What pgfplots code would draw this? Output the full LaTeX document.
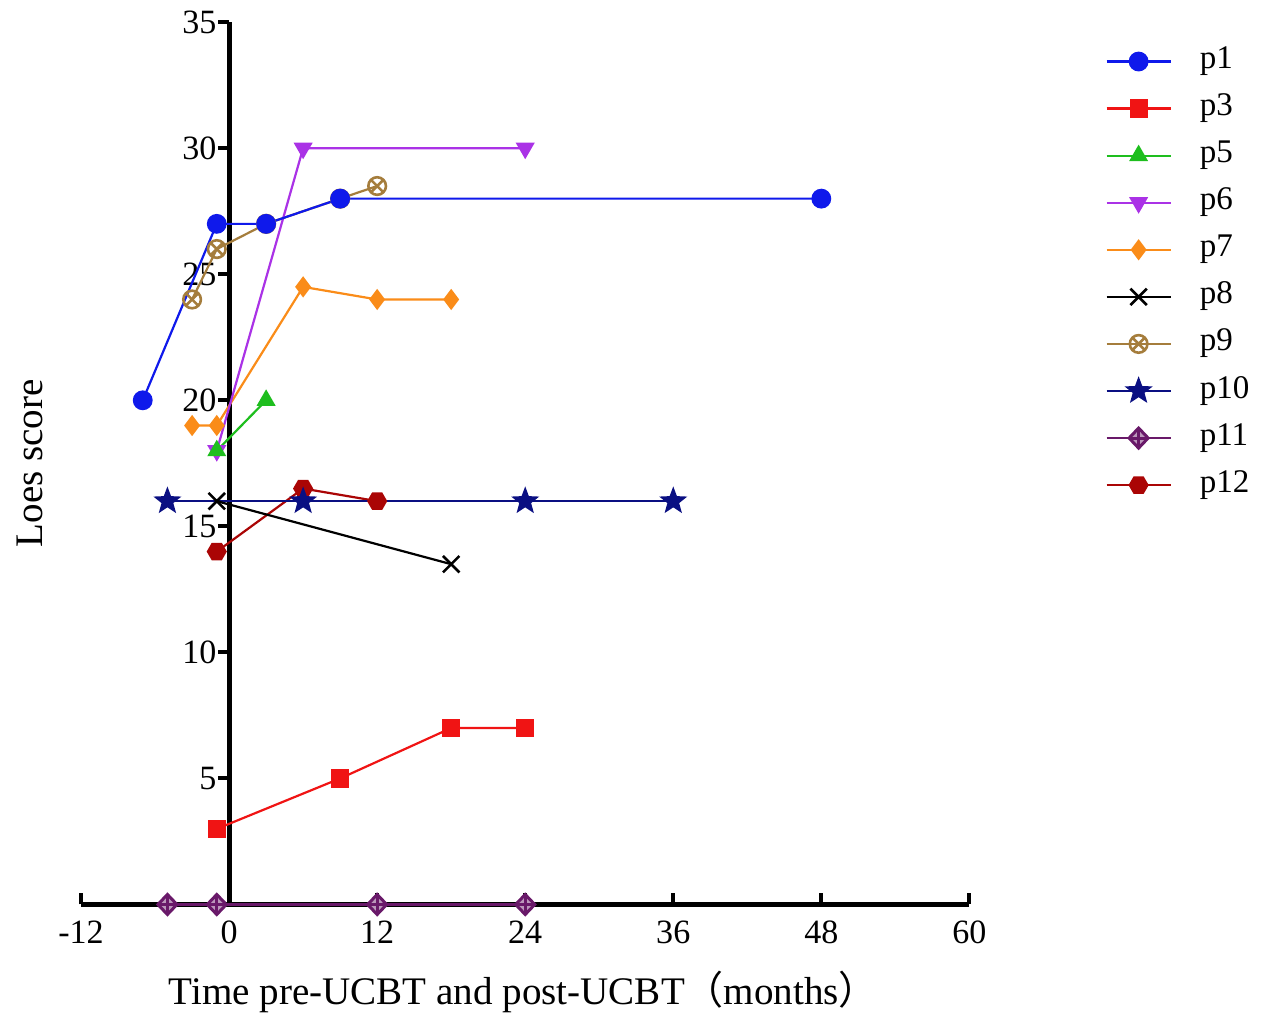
\documentclass[border=0pt]{standalone}
\usepackage{fontspec}
\setmainfont{Liberation Serif}
\newfontfamily\cjk{Noto Sans CJK SC}
\usepackage{pgfplots}
\pgfplotsset{compat=1.18}
\usetikzlibrary{plotmarks}

\definecolor{cA}{RGB}{15,25,235}
\definecolor{cB}{RGB}{240,20,20}
\definecolor{cC}{RGB}{30,190,30}
\definecolor{cD}{RGB}{170,50,230}
\definecolor{cE}{RGB}{250,140,25}
\definecolor{cF}{RGB}{0,0,0}
\definecolor{cG}{RGB}{165,125,60}
\definecolor{cH}{RGB}{10,15,130}
\definecolor{cI}{RGB}{105,25,105}
\definecolor{cJ}{RGB}{170,5,5}

% flat-topped hexagon
\pgfdeclareplotmark{hexagon*}{%
  \pgfpathmoveto{\pgfqpointpolar{0}{\pgfplotmarksize}}%
  \pgfpathlineto{\pgfqpointpolar{60}{\pgfplotmarksize}}%
  \pgfpathlineto{\pgfqpointpolar{120}{\pgfplotmarksize}}%
  \pgfpathlineto{\pgfqpointpolar{180}{\pgfplotmarksize}}%
  \pgfpathlineto{\pgfqpointpolar{240}{\pgfplotmarksize}}%
  \pgfpathlineto{\pgfqpointpolar{300}{\pgfplotmarksize}}%
  \pgfpathclose
  \pgfusepathqfillstroke}
% filled five-pointed star
\pgfdeclareplotmark{star5*}{%
  \pgfpathmoveto{\pgfqpointpolar{90}{\pgfplotmarksize}}%
  \pgfpathlineto{\pgfqpointpolar{126}{.42\pgfplotmarksize}}%
  \pgfpathlineto{\pgfqpointpolar{162}{\pgfplotmarksize}}%
  \pgfpathlineto{\pgfqpointpolar{198}{.42\pgfplotmarksize}}%
  \pgfpathlineto{\pgfqpointpolar{234}{\pgfplotmarksize}}%
  \pgfpathlineto{\pgfqpointpolar{270}{.42\pgfplotmarksize}}%
  \pgfpathlineto{\pgfqpointpolar{306}{\pgfplotmarksize}}%
  \pgfpathlineto{\pgfqpointpolar{342}{.42\pgfplotmarksize}}%
  \pgfpathlineto{\pgfqpointpolar{18}{\pgfplotmarksize}}%
  \pgfpathlineto{\pgfqpointpolar{54}{.42\pgfplotmarksize}}%
  \pgfpathclose
  \pgfusepathqfillstroke}
% diamond with a plus inside
\pgfdeclareplotmark{diamondplus}{%
  \pgfpathmoveto{\pgfqpoint{0pt}{\pgfplotmarksize}}%
  \pgfpathlineto{\pgfqpoint{.95\pgfplotmarksize}{0pt}}%
  \pgfpathlineto{\pgfqpoint{0pt}{-\pgfplotmarksize}}%
  \pgfpathlineto{\pgfqpoint{-.95\pgfplotmarksize}{0pt}}%
  \pgfpathclose
  \pgfusepathqfillstroke
  \pgfpathmoveto{\pgfqpoint{0pt}{\pgfplotmarksize}}%
  \pgfpathlineto{\pgfqpoint{0pt}{-\pgfplotmarksize}}%
  \pgfpathmoveto{\pgfqpoint{-.95\pgfplotmarksize}{0pt}}%
  \pgfpathlineto{\pgfqpoint{.95\pgfplotmarksize}{0pt}}%
  \pgfusepathqstroke}

\begin{document}
\begin{tikzpicture}
\begin{axis}[
  scale only axis, width=443.5pt, height=440.5pt,
  xmin=-12, xmax=60, ymin=0, ymax=35,
  axis x line=middle, axis y line=middle,
  axis line style={line width=2.5pt, -},
  xtick={-12,0,12,24,36,48,60}, ytick={5,10,...,35},
  hide obscured x ticks=false, hide obscured y ticks=false,
  tick align=center, major tick length=5.5pt,
  xtick style={line width=2pt, black, yshift=2.75pt},
  ytick style={line width=2pt, black, xshift=-2.75pt},
  /pgf/number format/assume math mode=true,
  tick label style={font=\fontsize{17}{20}\selectfont},
  xticklabel style={yshift=-2pt},
  every axis x label/.style={at={(axis description cs:0.498,-0.0988)}, anchor=center, font=\fontsize{19.5}{23}\selectfont},
  every axis y label/.style={at={(axis description cs:-0.0575,0.5)}, anchor=center, rotate=90, font=\fontsize{19.5}{23}\selectfont},
  xlabel={Time pre-UCBT and post-UCBT{\cjk （}months{\cjk ）}},
  ylabel={Loes score},
  clip=false,
  every axis plot/.append style={line width=1.1pt, mark size=4.4pt},
  reverse legend,
  legend style={at={(axis description cs:1.146,0.982)}, anchor=north west, draw=none, fill=none,
    font=\fontsize{16.5}{19}\selectfont, row sep=4.5pt, column sep=12pt,
    nodes={text height=11pt, text depth=4pt},
    cells={anchor=west}},
  legend image code/.code={\draw[mark repeat=2,mark phase=2] plot coordinates {(0pt,0pt)(16pt,0pt)(32pt,0pt)};},
]
\addplot[color=cJ, mark=hexagon*, mark options={fill=cJ}] coordinates {(-1,14)(6,16.5)(12,16)};
\addlegendentry{p12}
\addplot[color=cI, mark=diamondplus, mark size=5pt, mark options={fill=cI!45!white, line width=1.5pt}] coordinates {(-5,0)(-1,0)(12,0)(24,0)};
\addlegendentry{p11}
\addplot[color=cH, mark=star5*, mark size=5.8pt, mark options={fill=cH}] coordinates {(-5,16)(6,16)(24,16)(36,16)};
\addlegendentry{p10}
\addplot[color=cG, mark=otimes, mark options={line width=1.3pt}] coordinates {(-3,24)(-1,26)(3,27)(9,28)(12,28.5)};
\addlegendentry{p9}
\addplot[color=cF, mark=x, mark size=5.8pt, mark options={line width=1.3pt}] coordinates {(-1,16)(18,13.5)};
\addlegendentry{p8}
\addplot[color=cE, mark=diamond*, mark options={fill=cE}] coordinates {(-3,19)(-1,19)(6,24.5)(12,24)(18,24)};
\addlegendentry{p7}
\addplot[color=cD, mark=triangle*, mark options={fill=cD, rotate=180}] coordinates {(-1,18)(6,30)(24,30)};
\addlegendentry{p6}
\addplot[color=cC, mark=triangle*, mark options={fill=cC}] coordinates {(-1,18)(3,20)};
\addlegendentry{p5}
\addplot[color=cB, mark=square*, mark size=4pt, mark options={fill=cB}] coordinates {(-1,3)(9,5)(18,7)(24,7)};
\addlegendentry{p3}
\addplot[color=cA, mark=*, mark options={fill=cA}] coordinates {(-7,20)(-1,27)(3,27)(9,28)(48,28)};
\addlegendentry{p1}
\coordinate (bl) at (axis cs:-18.57,-4.49);
\coordinate (tr) at (axis cs:83.8,35.88);
\end{axis}
\path (bl) rectangle (tr);
\end{tikzpicture}
\end{document}
